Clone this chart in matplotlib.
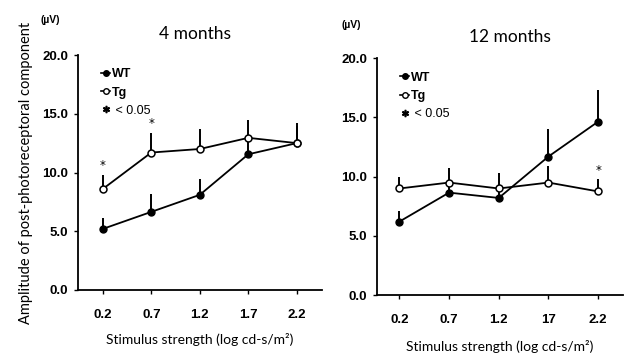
import matplotlib
matplotlib.use("Agg")
import matplotlib.pyplot as plt
from matplotlib.lines import Line2D
from matplotlib.font_manager import FontProperties
import numpy as np

# ---- data ----
stim = [0.2, 0.7, 1.2, 1.7, 2.2]
tick_labels_4 = ["0.2", "0.7", "1.2", "1.7", "2.2"]
tick_labels_12 = ["0.2", "0.7", "1.2", "17", "2.2"]

wt_4 = [5.2, 6.65, 8.1, 11.55, 12.5]
wt_4_err = [0.9, 1.55, 1.35, 1.5, 1.5]
tg_4 = [8.6, 11.7, 12.0, 12.95, 12.5]
tg_4_err = [1.2, 1.7, 1.7, 1.5, 1.7]
sig_4 = [True, True, False, False, False]

wt_12 = [6.2, 8.65, 8.2, 11.7, 14.65]
wt_12_err = [0.9, 1.0, 1.0, 2.3, 2.7]
tg_12 = [9.0, 9.5, 9.0, 9.5, 8.75]
tg_12_err = [0.95, 1.2, 1.3, 1.4, 1.05]
sig_12 = [False, False, False, False, True]

yticks = [0, 5, 10, 15, 20]

W, H = 628, 354
fig = plt.figure(figsize=(W / 100, H / 100), dpi=100)
fig.patch.set_facecolor("white")

tickfont = dict(family=["Liberation Sans", "DejaVu Sans"], weight="bold", size=9.5)
labfont = ["Lato", "DejaVu Sans"]


def panel(rect, wt, wte, tg, tge, sig, xlab, title, title_xy, xlim, leg_pos,
          xpad, lpad):
    ax = fig.add_axes(rect)
    ax.set_xlim(*xlim)
    ax.set_ylim(0, 20)
    for s in ["top", "right"]:
        ax.spines[s].set_visible(False)
    ax.spines["left"].set_linewidth(1.3)
    ax.spines["bottom"].set_linewidth(1.3)
    ax.tick_params(direction="out", length=3, width=1)
    ax.tick_params(axis="x", pad=xpad)
    ax.tick_params(axis="y", pad=4)
    ax.set_xticks(stim)
    ax.set_xticklabels(xlab)
    ax.set_yticks(yticks)
    ax.set_yticklabels([f"{v:.1f}" for v in yticks])
    for lab in ax.get_xticklabels() + ax.get_yticklabels():
        lab.set_fontproperties(FontProperties(**tickfont))

    zeros = np.zeros(len(stim))
    ax.errorbar(stim, tg, yerr=[zeros, tge], fmt="none", ecolor="black",
                elinewidth=1.4, capsize=0, zorder=2)
    ax.errorbar(stim, wt, yerr=[zeros, wte], fmt="none", ecolor="black",
                elinewidth=1.4, capsize=0, zorder=2)
    ax.plot(stim, tg, color="black", lw=1.3, marker="o", ms=5,
            mfc="white", mec="black", mew=1.1, zorder=4)
    ax.plot(stim, wt, color="black", lw=1.3, marker="o", ms=5,
            mfc="black", mec="black", zorder=3)
    for x, t, e, s in zip(stim, tg, tge, sig):
        if s:
            ax.text(x, t + e + 0.2, "*", ha="center", va="bottom",
                    fontsize=8.5, family="DejaVu Sans")

    handles = [
        Line2D([], [], color="black", lw=1.2, marker="o", ms=4, mfc="black"),
        Line2D([], [], color="black", lw=1.2, marker="o", ms=4, mfc="white"),
        Line2D([], [], ls="none", marker=r"$\ast$", ms=4.5, color="black"),
    ]
    leg = ax.legend(handles, ["WT", "Tg", " < 0.05"], loc="upper left",
                    bbox_to_anchor=leg_pos, frameon=False, handlelength=0.7,
                    handletextpad=0.15, labelspacing=0.5, borderpad=0,
                    prop=dict(family=["Liberation Sans", "DejaVu Sans"], size=9))
    for i, t in enumerate(leg.get_texts()):
        if i < 2:
            t.set_fontweight("bold")

    ax.set_xlabel("Stimulus strength (log cd-s/m²)", family=labfont,
                  fontsize=10, labelpad=lpad)
    fig.text(title_xy[0], title_xy[1], title, ha="center", va="center",
             family=labfont, fontsize=12.5)
    return ax


ax1 = panel([78 / W, 1 - 290 / H, (322 - 78) / W, 235 / H],
            wt_4, wt_4_err, tg_4, tg_4_err, sig_4, tick_labels_4,
            "4 months", (195 / W, 1 - 34 / H), (-0.056, 2.46), (0.07, 0.97),
            11, 8)
ax2 = panel([377 / W, 1 - 295 / H, (623 - 377) / W, 236.7 / H],
            wt_12, wt_12_err, tg_12, tg_12_err, sig_12, tick_labels_12,
            "12 months", (510 / W, 1 - 37 / H), (-0.025, 2.45), (0.07, 0.97),
            11, 10)

ax1.set_ylabel("Amplitude of post-photoreceptoral component", family=labfont,
               fontsize=10.5, labelpad=7)
fig.text(50 / W, 1 - 20 / H, "(µV)", family=["Liberation Sans", "DejaVu Sans"],
         fontsize=7.5, weight="bold", va="center", ha="center")
fig.text(351 / W, 1 - 25 / H, "(µV)", family=["Liberation Sans", "DejaVu Sans"],
         fontsize=7.5, weight="bold", va="center", ha="center")

fig.savefig("out.png", dpi=100, facecolor="white")
